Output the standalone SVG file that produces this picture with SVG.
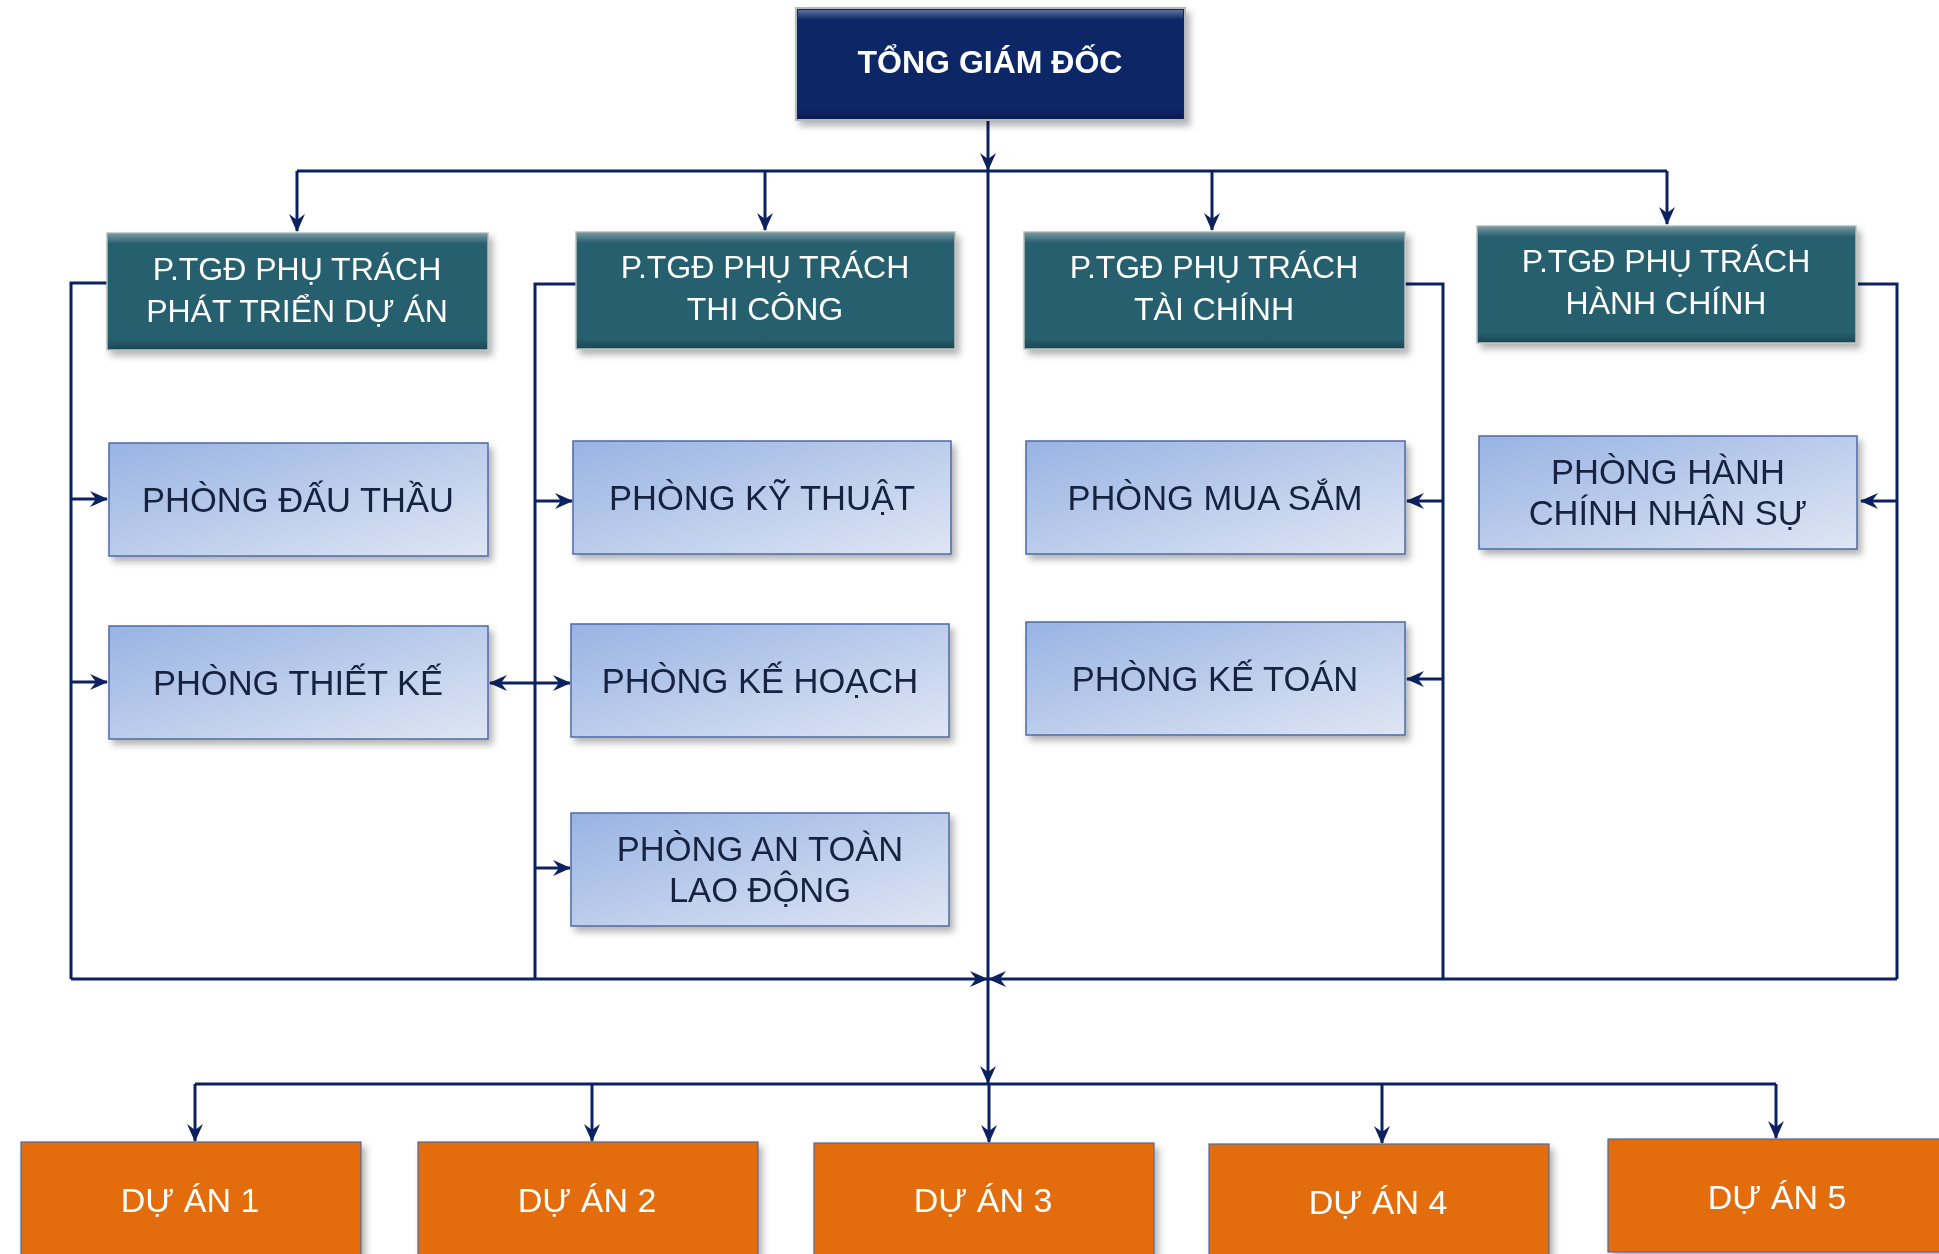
<svg xmlns="http://www.w3.org/2000/svg" width="1939" height="1254" viewBox="0 0 1939 1254">
<defs>
<style>
.t{font-family:"Liberation Sans",Arial,sans-serif;text-anchor:middle}
.w{fill:#ffffff}
.d{fill:#14223f}
.con{fill:none;stroke:#0c2160;stroke-width:3}
.ar{marker-end:url(#ah)}
.dept{fill:url(#gd);stroke:#4d6aa6;stroke-width:1.5}
.dep{fill:#275e6e;stroke:#b9c1c1;stroke-width:1.5}
.proj{fill:#e36c0b;stroke:#4b69a3;stroke-width:1.2}
</style>
<linearGradient id="gd" x1="0" y1="0" x2="1" y2="1">
<stop offset="0" stop-color="#98b3e3"/>
<stop offset="1" stop-color="#dfe6f4"/>
</linearGradient>
<linearGradient id="hl" x1="0" y1="0" x2="0" y2="1">
<stop offset="0" stop-color="#ffffff" stop-opacity="0.35"/>
<stop offset="1" stop-color="#ffffff" stop-opacity="0"/>
</linearGradient>
<linearGradient id="sh" x1="0" y1="0" x2="0" y2="1">
<stop offset="0" stop-color="#000000" stop-opacity="0"/>
<stop offset="1" stop-color="#000000" stop-opacity="0.25"/>
</linearGradient>
<filter id="ds" x="-10%" y="-10%" width="125%" height="130%">
<feDropShadow dx="4" dy="5" stdDeviation="3.5" flood-color="#000" flood-opacity="0.3"/>
</filter>
<marker id="ah" markerUnits="userSpaceOnUse" markerWidth="18" markerHeight="16" viewBox="0 0 18 16" refX="17" refY="8" orient="auto">
<path d="M0,0 L18,8 L0,16 L6,8 z" fill="#0c2160"/>
</marker>
<marker id="as" markerUnits="userSpaceOnUse" markerWidth="18" markerHeight="16" viewBox="0 0 18 16" refX="1" refY="8" orient="auto">
<path d="M18,0 L0,8 L18,16 L12,8 z" fill="#0c2160"/>
</marker>
</defs>
<rect width="1939" height="1254" fill="#ffffff"/>

<g id="connectors">
<path class="con ar" d="M988,120 V170"/>
<path class="con" d="M297,171 H1667"/>
<path class="con ar" d="M297,171 V231"/>
<path class="con ar" d="M765,171 V230"/>
<path class="con ar" d="M1212,171 V230"/>
<path class="con ar" d="M1667,171 V224"/>
<path class="con" d="M988,171 V979"/>
<path class="con" d="M107,283 H71 V979"/>
<path class="con ar" d="M71,979 H987"/>
<path class="con ar" d="M71,499 H107"/>
<path class="con ar" d="M71,682 H107"/>
<path class="con" d="M576,284 H535 V979"/>
<path class="con ar" d="M535,501 H572"/>
<path class="con ar" d="M535,868 H570"/>
<path class="con" d="M490,683 H570" marker-start="url(#as)" marker-end="url(#ah)"/>
<path class="con" d="M1405,284 H1443 V979"/>
<path class="con ar" d="M1443,501 H1407"/>
<path class="con ar" d="M1443,679 H1407"/>
<path class="con" d="M1858,284 H1897 V979"/>
<path class="con ar" d="M1897,979 H989"/>
<path class="con ar" d="M1897,501 H1861"/>
<path class="con ar" d="M988,979 V1083"/>
<path class="con" d="M195,1084 H1776"/>
<path class="con ar" d="M195,1084 V1141"/>
<path class="con ar" d="M592,1084 V1141"/>
<path class="con ar" d="M989,1084 V1142"/>
<path class="con ar" d="M1382,1084 V1143"/>
<path class="con ar" d="M1776,1084 V1138"/>
</g>

<g id="tgd" filter="url(#ds)">
<rect x="796" y="8" width="389" height="112" fill="#0a2566" stroke="#b4b8bf" stroke-width="2"/>
<rect x="798" y="10" width="385" height="10" fill="url(#hl)"/>
<rect x="798" y="110" width="385" height="9" fill="url(#sh)"/>
<text class="t w" x="990" y="73" font-size="32" font-weight="bold">TỔNG GIÁM ĐỐC</text>
</g>

<g id="pgd1" filter="url(#ds)">
<rect class="dep" x="107" y="233" width="381" height="117"/>
<rect x="108" y="234" width="379" height="10" fill="url(#hl)"/>
<rect x="108" y="340" width="379" height="9" fill="url(#sh)"/>
<text class="t w" x="297" y="280" font-size="32">P.TGĐ PHỤ TRÁCH</text>
<text class="t w" x="297" y="322" font-size="32">PHÁT TRIỂN DỰ ÁN</text>
</g>
<g id="pgd2" filter="url(#ds)">
<rect class="dep" x="576" y="232" width="379" height="117"/>
<rect x="577" y="233" width="377" height="10" fill="url(#hl)"/>
<rect x="577" y="339" width="377" height="9" fill="url(#sh)"/>
<text class="t w" x="765" y="278" font-size="32">P.TGĐ PHỤ TRÁCH</text>
<text class="t w" x="765" y="320" font-size="32">THI CÔNG</text>
</g>
<g id="pgd3" filter="url(#ds)">
<rect class="dep" x="1024" y="232" width="381" height="117"/>
<rect x="1025" y="233" width="379" height="10" fill="url(#hl)"/>
<rect x="1025" y="339" width="379" height="9" fill="url(#sh)"/>
<text class="t w" x="1214" y="278" font-size="32">P.TGĐ PHỤ TRÁCH</text>
<text class="t w" x="1214" y="320" font-size="32">TÀI CHÍNH</text>
</g>
<g id="pgd4" filter="url(#ds)">
<rect class="dep" x="1477" y="226" width="379" height="117"/>
<rect x="1478" y="227" width="377" height="10" fill="url(#hl)"/>
<rect x="1478" y="333" width="377" height="9" fill="url(#sh)"/>
<text class="t w" x="1666" y="272" font-size="32">P.TGĐ PHỤ TRÁCH</text>
<text class="t w" x="1666" y="314" font-size="32">HÀNH CHÍNH</text>
</g>

<g id="dauthau" filter="url(#ds)">
<rect class="dept" x="109" y="443" width="379" height="113"/>
<text class="t d" x="298" y="512" font-size="34.5">PHÒNG ĐẤU THẦU</text>
</g>
<g id="thietke" filter="url(#ds)">
<rect class="dept" x="109" y="626" width="379" height="113"/>
<text class="t d" x="298" y="695" font-size="34.5">PHÒNG THIẾT KẾ</text>
</g>
<g id="kythuat" filter="url(#ds)">
<rect class="dept" x="573" y="441" width="378" height="113"/>
<text class="t d" x="762" y="510" font-size="34.5">PHÒNG KỸ THUẬT</text>
</g>
<g id="kehoach" filter="url(#ds)">
<rect class="dept" x="571" y="624" width="378" height="113"/>
<text class="t d" x="760" y="693" font-size="34.5">PHÒNG KẾ HOẠCH</text>
</g>
<g id="antoan" filter="url(#ds)">
<rect class="dept" x="571" y="813" width="378" height="113"/>
<text class="t d" x="760" y="861" font-size="34.5">PHÒNG AN TOÀN</text>
<text class="t d" x="760" y="902" font-size="34.5">LAO ĐỘNG</text>
</g>
<g id="muasam" filter="url(#ds)">
<rect class="dept" x="1026" y="441" width="379" height="113"/>
<text class="t d" x="1215" y="510" font-size="34.5">PHÒNG MUA SẮM</text>
</g>
<g id="ketoan" filter="url(#ds)">
<rect class="dept" x="1026" y="622" width="379" height="113"/>
<text class="t d" x="1215" y="691" font-size="34.5">PHÒNG KẾ TOÁN</text>
</g>
<g id="hanhchinh" filter="url(#ds)">
<rect class="dept" x="1479" y="436" width="378" height="113"/>
<text class="t d" x="1668" y="484" font-size="34.5">PHÒNG HÀNH</text>
<text class="t d" x="1668" y="525" font-size="34.5">CHÍNH NHÂN SỰ</text>
</g>

<g id="duan1" filter="url(#ds)">
<rect class="proj" x="21" y="1142" width="340" height="130"/>
<text class="t w" x="190" y="1212" font-size="34">DỰ ÁN 1</text>
</g>
<g id="duan2" filter="url(#ds)">
<rect class="proj" x="418" y="1142" width="340" height="130"/>
<text class="t w" x="587" y="1212" font-size="34">DỰ ÁN 2</text>
</g>
<g id="duan3" filter="url(#ds)">
<rect class="proj" x="814" y="1143" width="340" height="130"/>
<text class="t w" x="983" y="1212" font-size="34">DỰ ÁN 3</text>
</g>
<g id="duan4" filter="url(#ds)">
<rect class="proj" x="1209" y="1144" width="340" height="130"/>
<text class="t w" x="1378" y="1214" font-size="34">DỰ ÁN 4</text>
</g>
<g id="duan5" filter="url(#ds)">
<rect class="proj" x="1608" y="1139" width="345" height="113"/>
<text class="t w" x="1777" y="1209" font-size="34">DỰ ÁN 5</text>
</g>
</svg>
